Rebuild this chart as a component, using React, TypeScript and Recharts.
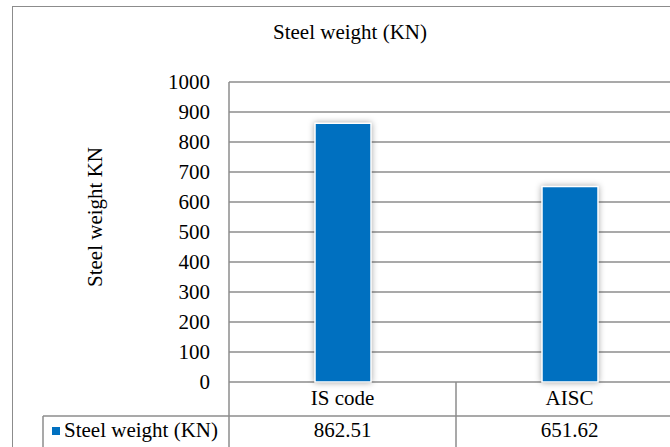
import { Bar, BarChart, CartesianGrid, XAxis, YAxis } from 'recharts'

const categories = ['IS code', 'AISC']
const weights = [862.51, 651.62]
const yTicks = [0, 100, 200, 300, 400, 500, 600, 700, 800, 900, 1000]
const seriesName = 'Steel weight (KN)'
const chartTitle = 'Steel weight (KN)'
const yLabel = 'Steel weight KN'

const data = categories.map((name, i) => ({ name, weight: weights[i] }))

const C = {
  bar: '#0070C0',
  line: '#8c8c8c',
  text: '#000000',
  font: 'Liberation Serif',
}
const FS = 21
const textStyle = { fontFamily: C.font, fontSize: FS, fill: C.text }

function ShadowBar(props: any) {
  const { x, y, width, height } = props
  if (!height || height <= 0) return null
  return (
    <rect x={x} y={y} width={width} height={height} fill={C.bar}
      stroke="#ffffff" strokeWidth={1.5}
      style={{ filter: 'drop-shadow(0px 0px 3px rgba(0,0,0,0.35))' }} />
  )
}

// x tick doubles as the data table under the plot
function TableTick(props: any) {
  const { x, y, payload } = props
  const i = payload.index ?? categories.indexOf(payload.value)
  const half = payload.offset ?? 113.5
  const left = x - half
  const right = x + half
  const rowY = y + 34
  return (
    <g>
      <line x1={right} y1={y} x2={right} y2={y + 80} stroke={C.line} strokeWidth={1.5} />
      <line x1={left} y1={rowY} x2={right} y2={rowY} stroke={C.line} strokeWidth={1.5} />
      {i === 0 && (
        <g>
          <line x1={left} y1={y} x2={left} y2={y + 80} stroke={C.line} strokeWidth={1.5} />
          <line x1={43} y1={rowY} x2={left} y2={rowY} stroke={C.line} strokeWidth={1.5} />
          <line x1={43} y1={rowY} x2={43} y2={y + 80} stroke={C.line} strokeWidth={1.5} />
          <rect x={52} y={y + 45} width={8} height={8} fill={C.bar} />
          <text x={64} y={y + 55} textAnchor="start" style={textStyle}>{seriesName}</text>
        </g>
      )}
      <text x={x} y={y + 23} textAnchor="middle" style={textStyle}>{payload.value}</text>
      <text x={x} y={y + 55} textAnchor="middle" style={textStyle}>
        {weights[i].toFixed(2)}
      </text>
    </g>
  )
}

function YTick(props: any) {
  const { x, y, payload } = props
  return (
    <text x={x} y={y} textAnchor="end" dominantBaseline="central" style={textStyle}>
      {payload.value}
    </text>
  )
}

export default function App() {
  return (
    <div style={{ position: 'absolute', left: 0, top: 0, width: 670, height: 447,
      overflow: 'hidden', background: '#fff' }}>
      <div style={{ position: 'absolute', left: 12, top: 6, width: 720, height: 520,
        border: `1.5px solid ${C.line}` }} />
      <div style={{ position: 'absolute', left: 0, top: 0 }}>
        <BarChart width={700} height={470} data={data}
          margin={{ top: 82, right: 17, bottom: 28, left: 0 }}>
          <CartesianGrid vertical={false} stroke={C.line} strokeWidth={1.5} />
          <XAxis dataKey="name" height={60} axisLine={false} tickLine={false}
            tickSize={0} tickMargin={0} interval={0} tick={<TableTick />} />
          <YAxis width={229} domain={[0, 1000]} ticks={yTicks} interval={0}
            axisLine={{ stroke: C.line, strokeWidth: 1.5 }} tickLine={false}
            tickSize={0} tickMargin={19} tick={<YTick />} />
          <Bar dataKey="weight" name={seriesName} barSize={56}
            shape={<ShadowBar />} isAnimationActive={false} />
        </BarChart>
      </div>
      <svg width={670} height={447} style={{ position: 'absolute', left: 0, top: 0,
        pointerEvents: 'none' }}>
        <text x={350} y={39} textAnchor="middle" style={textStyle}>{chartTitle}</text>
        <text x={0} y={0} textAnchor="middle" dominantBaseline="central" style={textStyle}
          transform="translate(95 217) rotate(-90)">{yLabel}</text>
      </svg>
    </div>
  )
}
